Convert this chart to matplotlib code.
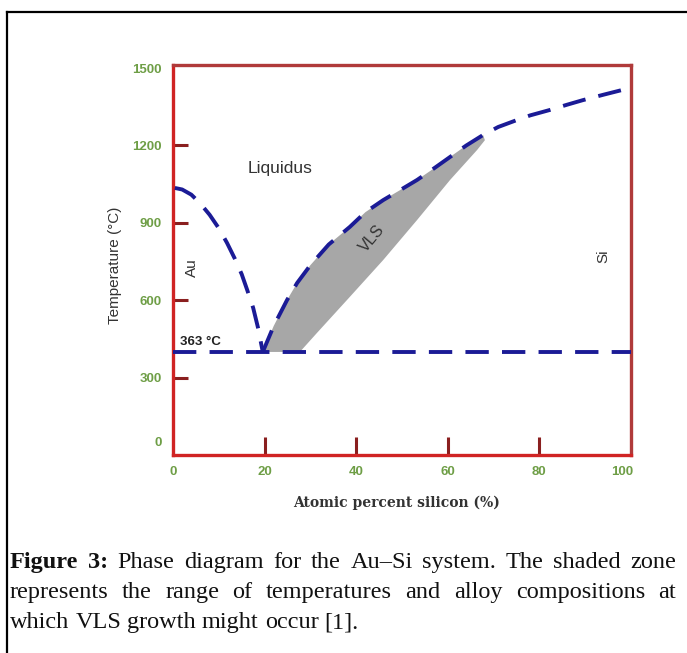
import matplotlib
matplotlib.use("Agg")
import matplotlib.pyplot as plt
from matplotlib.lines import Line2D

# Au-side liquidus (atomic % Si, temperature in axis units)
au_x = [0.4, 2.0, 4.0, 5.9, 8.0, 10.0, 11.8, 13.5, 15.0, 16.2, 17.5, 18.6, 19.6]
au_t = [1034, 1028, 1008, 975, 930, 878, 821, 760, 700, 639, 570, 490, 399]

# Si-side liquidus
si_x = [19.6, 22.0, 24.9, 27.1, 30.0, 34.0, 38.6, 42.0, 45.9, 50.0, 53.3, 57.0,
        60.5, 64.0, 67.7, 71.0, 75.1, 78.0, 82.3, 86.0, 89.5, 94.0, 99.8]
si_t = [399, 500, 600, 666, 735, 815, 883, 940, 987, 1030, 1065, 1110,
        1154, 1198, 1239, 1270, 1297, 1315, 1336, 1356, 1374, 1395, 1421]

# eutectic line
eut_t = 399

# right edge of the VLS zone (top to bottom)
vls_x = [68.1, 66.4, 60.5, 53.3, 45.9, 38.6, 31.4, 27.7]
vls_t = [1219, 1181, 1065, 910, 755, 612, 472, 399]

xticks = [0, 20, 40, 60, 80, 98]
xlabels = ["0", "20", "40", "60", "80", "100"]
yticks = [54, 300, 600, 900, 1200, 1498]
ylabels = ["0", "300", "600", "900", "1200", "1500"]

W, H = 687, 653
fig = plt.figure(figsize=(W / 100, H / 100), dpi=100)
ax = fig.add_axes([173 / W, 1 - 455 / H, 458 / W, 390 / H])

blue = "#1b1b96"
dash = (0, (6, 3.4))

# shaded VLS zone
top_x = [x for x in si_x if x <= 68]
top_t = [t for x, t in zip(si_x, si_t) if x <= 68]
ax.fill(top_x + vls_x, top_t + vls_t, color="#a7a7a7", lw=0, zorder=1)

ax.plot(au_x, au_t, color=blue, lw=2.8, ls=dash, zorder=3)
ax.plot(si_x, si_t, color=blue, lw=2.8, ls=dash, zorder=3)
ax.plot([0, 100], [eut_t, eut_t], color=blue, lw=2.8, ls=dash, zorder=3)

ax.set_xlim(0, 100)
ax.set_ylim(0, 1510)

ax.set_xticks(xticks, xlabels)
ax.set_yticks(yticks, ylabels)
ax.tick_params(direction="in", colors="#8a1f1f", width=2.2,
               labelcolor="#6e9e46", labelsize=9.5)
ax.tick_params(axis="x", length=13, pad=8)
ax.tick_params(axis="y", length=11, pad=8)
for lab in ax.get_xticklabels() + ax.get_yticklabels():
    lab.set_fontweight("bold")
    lab.set_family("Liberation Sans")
for t in (ax.xaxis.get_major_ticks()[0], ax.xaxis.get_major_ticks()[-1],
          ax.yaxis.get_major_ticks()[0], ax.yaxis.get_major_ticks()[-1]):
    t.tick1line.set_visible(False)

for side in ["left", "bottom"]:
    ax.spines[side].set_color("#d02424")
    ax.spines[side].set_linewidth(2.4)
for side in ["top", "right"]:
    ax.spines[side].set_color("#b03a3a")
    ax.spines[side].set_linewidth(2.4)

txt = dict(family="Liberation Sans", color="#333333")
ax.text(23.4, 1111, "Liquidus", fontsize=12.5, ha="center", va="center", **txt)
ax.text(4.1, 724, "Au", fontsize=11, rotation=90, ha="center", va="center", **txt)
ax.text(43.4, 840, "VLS", fontsize=11.5, rotation=50, ha="center", va="center", **txt)
ax.text(93.9, 770, "Si", fontsize=11, rotation=90, ha="center", va="center", **txt)
ax.text(1.5, 437, "363 °C", fontsize=9.5, fontweight="bold", ha="left",
        va="center", family="Liberation Sans", color="#222222")

fig.text(115 / W, 1 - 265 / H, "Temperature (°C)", rotation=90, fontsize=11,
         ha="center", va="center", **txt)
fig.text(397 / W, 1 - 503 / H, "Atomic percent silicon (%)", fontsize=10,
         fontweight="bold", family="DejaVu Serif", ha="center", va="center",
         color="#333333")

# frame lines of the figure box
fig.add_artist(Line2D([7 / W, 7 / W], [0, 1 - 12 / H], color="black", lw=1.6))
fig.add_artist(Line2D([7 / W, 1], [1 - 12 / H, 1 - 12 / H], color="black", lw=1.6))

# caption, justified by hand
cap_lines = [
    [("Figure", "bold"), ("3:", "bold"), ("Phase", "normal"), ("diagram", "normal"),
     ("for", "normal"), ("the", "normal"), ("Au–Si", "normal"), ("system.", "normal"),
     ("The", "normal"), ("shaded", "normal"), ("zone", "normal")],
    [(w, "normal") for w in "represents the range of temperatures and alloy compositions at".split()],
    [(w, "normal") for w in "which VLS growth might occur [1].".split()],
]
baselines = [568, 598, 628]
x_left, x_right = 10, 676
cap_size = 17.5
renderer = fig.canvas.get_renderer()
cap_font = dict(family="Liberation Serif", fontsize=cap_size, color="#111111")
for i, (words, yb) in enumerate(zip(cap_lines, baselines)):
    arts = [fig.text(0, 1 - yb / H, w, fontweight=fw, va="baseline", ha="left", **cap_font)
            for w, fw in words]
    widths = [a.get_window_extent(renderer).width for a in arts]
    if i < len(cap_lines) - 1:
        gap = (x_right - x_left - sum(widths)) / (len(arts) - 1)
    else:
        gap = 0.25 * cap_size * 100 / 72
    x = x_left
    for a, w in zip(arts, widths):
        a.set_x(x / W)
        x += w + gap

fig.savefig("out.png", dpi=100)
